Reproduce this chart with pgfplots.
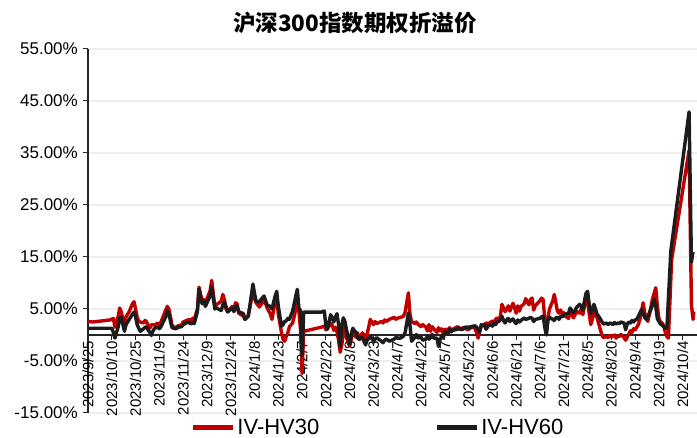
\documentclass[border=0pt]{standalone}
\usepackage{pgfplots}
\pgfplotsset{compat=1.18}
\usepackage{fontspec}
\setmainfont{Liberation Sans}
\newfontfamily\cjk{Noto Sans CJK SC}
\definecolor{hvred}{HTML}{C00000}
\definecolor{hvblack}{HTML}{1C1C1C}
\definecolor{gridc}{HTML}{EEEEEE}
\begin{document}
\begin{tikzpicture}[x=1pt,y=1pt]
\path[use as bounding box] (0,0) rectangle (697,438);
\node at (355,415) {\cjk\bfseries\fontsize{22.5}{26}\selectfont 沪深300指数期权折溢价};
\begin{axis}[
  at={(88pt,25pt)}, anchor=south west,
  scale only axis, width=609pt, height=364pt,
  xmin=0, xmax=384, ymin=-15, ymax=55,
  axis x line=middle, axis y line=left,
  hide obscured x ticks=false, hide obscured y ticks=false,
  axis line style={-, line width=1.2pt, black!85},
  tick align=outside,
  major tick length=5pt,
  tick style={line width=1pt, black!85},
  xtick={0,15,...,375},
  xticklabels={2023/9/25,2023/10/10,2023/10/25,2023/11/9,2023/11/24,2023/12/9,2023/12/24,2024/1/8,2024/1/23,2024/2/7,2024/2/22,2024/3/8,2024/3/23,2024/4/7,2024/4/22,2024/5/7,2024/5/22,2024/6/6,2024/6/21,2024/7/6,2024/7/21,2024/8/5,2024/8/20,2024/9/4,2024/9/19,2024/10/4},
  xticklabel style={rotate=90, anchor=east, inner sep=1pt, font=\fontsize{15}{15}\selectfont},
  ytick={-15,-5,5,15,25,35,45,55},
  yticklabels={-15.00\%,-5.00\%,5.00\%,15.00\%,25.00\%,35.00\%,45.00\%,55.00\%},
  yticklabel style={font=\fontsize{17}{17}\selectfont, inner sep=2pt, xshift=-3pt},
  ymajorgrids, major grid style={gridc, line width=1.3pt},
  legend style={at={(0.476,-0.041)}, anchor=center, draw=none, fill=none,
    font=\fontsize{22}{22}\selectfont, legend columns=2,
    /tikz/every even column/.append style={column sep=113pt}},
  legend image code/.code={\draw[#1, line width=5pt] (0pt,0pt) -- (40pt,0pt);},
  every axis plot/.append style={line width=3.4pt, line join=round},
  clip=false,
]
\addplot[hvred, mark=none] coordinates {
(0,2.6)(3,2.5)(14,2.9)(16,3.2)(17,1.5)(19,3.5)(20,5.2)(21,4.4)(22,3.0)(23,2.0)(24,3.5)(26,4.5)(28,6.0)(29,6.4)(30,5.0)(31,3.4)(32,2.6)(35,2.3)(36,2.8)(37,2.5)(38,1.8)(39,1.3)(40,2.0)(42,1.9)(44,2.3)(45,1.9)(46,2.5)(49,4.8)(50,5.5)(51,5.0)(52,3.5)(53,1.8)(55,1.4)(56,1.6)(57,1.8)(59,1.9)(60,2.5)(63,2.9)(64,3.0)(65,2.7)(66,3.2)(67,3.0)(69,5.0)(70,9.2)(71,7.8)(72,6.5)(73,6.8)(74,6.2)(77,8.5)(78,10.5)(79,8.0)(80,5.6)(81,5.8)(84,6.5)(85,7.8)(86,6.8)(87,5.0)(88,4.6)(91,5.5)(92,4.8)(93,6.2)(94,6.0)(95,4.2)(98,3.6)(99,3.0)(100,3.4)(101,3.6)(102,5.2)(104,8.5)(105,7.0)(106,6.2)(108,5.4)(109,5.8)(111,6.8)(112,6.0)(113,5.2)(115,4.0)(116,3.0)(118,6.5)(119,7.2)(120,4.0)(122,0.5)(123,-0.8)(124,-1.2)(125,-0.3)(126,0.4)(127,1.6)(129,2.3)(130,3.5)(131,5.0)(132,6.3)(133,4.5)(134,1.0)(135,-7.4)(136,0.7)(147,1.5)(149,1.7)(150,1.0)(151,1.3)(153,2.2)(154,1.9)(155,0.9)(156,1.5)(157,0.6)(158,-1.0)(159,-3.3)(160,-2.0)(161,0.5)(162,1.8)(163,-0.5)(164,-1.5)(165,-2.1)(166,-0.8)(167,0.2)(168,0.3)(169,-0.4)(170,0.4)(171,-0.9)(172,-0.2)(173,0.4)(174,0.0)(175,-0.9)(176,0.2)(177,1.5)(178,3.0)(179,2.5)(180,2.0)(181,2.6)(182,2.2)(185,2.6)(186,2.3)(187,2.9)(188,2.6)(190,3.0)(193,3.4)(194,3.0)(195,3.2)(197,3.4)(199,3.6)(200,4.5)(202,8.1)(203,4.0)(204,2.6)(206,2.2)(207,2.5)(208,2.1)(210,1.6)(211,2.0)(213,1.5)(214,0.8)(215,2.0)(216,0.7)(217,1.6)(218,1.2)(220,0.5)(221,1.4)(222,0.8)(223,1.2)(224,0.3)(225,1.1)(227,1.0)(228,1.4)(229,0.8)(230,1.1)(233,1.6)(234,1.3)(235,1.0)(236,1.3)(237,1.5)(238,1.2)(240,1.0)(241,1.6)(242,1.4)(243,1.7)(244,1.2)(245,0.5)(246,-0.6)(247,0.8)(248,1.9)(249,1.7)(250,2.0)(251,2.3)(253,2.2)(254,2.5)(255,2.7)(256,2.4)(257,3.0)(258,3.3)(259,3.0)(260,3.6)(261,5.9)(262,5.2)(263,4.5)(264,5.0)(265,5.6)(266,4.6)(267,5.4)(268,6.1)(269,5.2)(270,4.2)(271,5.6)(272,4.6)(273,5.5)(275,6.0)(276,7.0)(278,5.8)(279,6.8)(280,7.1)(281,4.8)(282,5.6)(285,6.6)(286,7.1)(287,6.8)(288,3.0)(289,0.2)(290,3.2)(291,5.0)(292,5.8)(293,6.5)(294,7.8)(295,6.2)(296,4.6)(297,4.2)(298,4.8)(299,4.0)(300,4.3)(301,3.6)(303,3.2)(304,4.4)(305,4.1)(306,3.3)(307,3.8)(308,4.5)(310,4.2)(311,5.0)(312,3.9)(313,5.5)(314,7.8)(315,6.5)(316,4.2)(317,2.0)(318,3.0)(319,4.8)(320,3.8)(321,3.3)(322,2.2)(324,0.0)(325,-0.5)(327,-0.3)(328,-0.5)(329,-0.1)(330,-0.4)(331,-0.2)(332,0.0)(333,-0.6)(334,-0.2)(335,-0.3)(336,0.1)(338,-0.5)(339,-1.0)(340,-0.4)(341,0.2)(342,0.8)(343,0.5)(344,1.2)(345,1.0)(346,1.5)(347,2.0)(348,3.0)(349,4.5)(350,6.2)(351,4.3)(352,3.5)(353,2.6)(354,4.0)(355,5.5)(356,7.0)(357,8.0)(358,9.1)(359,5.5)(360,3.2)(361,2.5)(362,2.3)(363,1.8)(364,0.5)(365,-0.3)(366,-0.6)(368,14.5)(379,35.5)(380.5,5.8)(381.5,3.0)(382,4.5)
};
\addlegendentry{IV-HV30}
\addplot[hvblack, mark=none] coordinates {
(0,1.3)(3,1.3)(14,1.3)(15,1.3)(16,0.5)(17,-0.6)(18,0.5)(19,1.5)(20,3.2)(21,3.4)(22,2.0)(23,0.7)(24,2.0)(26,3.0)(28,4.0)(29,4.4)(30,3.5)(31,2.0)(32,1.3)(33,0.7)(35,1.2)(36,1.5)(37,1.5)(38,0.9)(39,0.5)(40,-0.1)(41,0.8)(42,1.3)(44,1.5)(45,1.2)(46,1.6)(49,3.5)(50,4.6)(51,4.2)(52,2.6)(53,1.4)(55,1.2)(56,1.3)(57,1.5)(59,1.6)(60,2.0)(63,2.5)(64,2.3)(65,2.1)(66,2.4)(67,2.2)(69,4.5)(70,8.8)(71,7.0)(72,6.0)(73,6.5)(74,5.5)(77,7.5)(78,9.2)(79,7.0)(80,5.0)(81,5.2)(84,4.7)(85,5.8)(86,6.3)(87,5.5)(88,4.4)(91,5.2)(92,4.5)(93,5.5)(94,5.6)(95,4.5)(98,4.1)(99,3.0)(100,3.3)(101,3.6)(102,5.5)(104,9.8)(105,8.0)(106,6.5)(108,6.3)(109,6.8)(111,7.5)(112,6.6)(113,5.7)(115,5.5)(116,5.0)(118,7.5)(119,8.4)(120,5.5)(122,1.7)(123,2.0)(124,2.6)(125,2.7)(126,3.2)(127,3.0)(129,4.6)(130,6.0)(131,7.5)(132,8.8)(133,5.0)(134,4.8)(135,-4.0)(136,4.4)(147,4.4)(149,4.6)(150,1.7)(151,1.1)(152,2.5)(153,3.9)(154,3.3)(155,2.5)(156,3.5)(157,4.1)(158,2.0)(159,-2.2)(160,1.8)(161,3.3)(162,2.6)(163,1.0)(164,-0.5)(165,-1.9)(166,0.2)(167,1.3)(168,0.8)(169,0.5)(170,-0.6)(171,-0.8)(172,-0.5)(173,-0.6)(174,-1.2)(175,-1.9)(176,-1.0)(177,-0.7)(178,-0.4)(179,-0.6)(180,-1.2)(181,-0.8)(182,-0.5)(185,-1.2)(186,-1.5)(187,-1.0)(188,-0.8)(190,-1.2)(193,-0.8)(194,-0.5)(195,-0.6)(197,-0.6)(199,-0.2)(200,0.5)(202,4.2)(203,2.0)(204,-1.2)(206,-0.5)(207,0.1)(208,-0.6)(210,-0.4)(211,-1.0)(213,-0.8)(214,-0.2)(215,-0.8)(216,-0.5)(217,0.1)(218,-0.6)(220,-0.6)(221,-2.2)(222,-0.9)(223,-0.2)(224,-0.6)(225,0.6)(227,0.3)(228,1.1)(229,0.6)(230,0.9)(233,1.1)(234,1.4)(235,1.2)(236,1.0)(237,1.3)(238,1.5)(240,1.5)(241,1.3)(242,1.7)(243,1.6)(244,1.8)(245,1.5)(246,1.1)(247,0.6)(248,2.0)(249,1.8)(250,2.0)(251,1.1)(253,2.0)(254,1.9)(255,1.7)(256,2.3)(257,2.0)(258,2.5)(259,2.6)(260,2.9)(261,3.6)(262,2.8)(263,2.3)(264,2.9)(265,3.2)(266,2.6)(267,2.9)(268,3.1)(269,2.5)(270,2.2)(271,2.9)(272,2.5)(273,2.8)(275,3.3)(276,3.0)(278,3.2)(279,3.4)(280,3.2)(281,2.6)(282,3.0)(285,3.2)(286,3.5)(287,3.6)(288,1.5)(289,0.0)(290,2.8)(291,3.4)(292,3.2)(293,3.0)(294,2.8)(295,3.3)(296,3.4)(297,3.0)(298,3.6)(299,3.5)(300,3.8)(301,4.0)(303,4.2)(304,5.2)(305,4.7)(306,4.3)(307,4.6)(308,5.3)(310,5.9)(311,5.5)(312,4.8)(313,6.5)(314,8.0)(315,8.4)(316,6.0)(317,4.2)(318,4.8)(319,5.9)(320,5.0)(321,4.0)(322,3.6)(324,2.6)(325,2.1)(327,2.3)(328,2.0)(329,2.3)(330,2.2)(331,2.0)(332,2.4)(333,2.1)(334,2.3)(335,2.2)(336,2.5)(338,2.3)(339,1.0)(340,2.1)(341,2.5)(342,2.3)(343,2.8)(344,2.5)(345,2.9)(346,3.0)(347,3.6)(348,4.2)(349,4.9)(350,4.2)(351,3.4)(352,3.0)(353,3.5)(354,4.3)(355,5.0)(356,5.8)(357,6.8)(358,5.5)(359,3.1)(360,2.6)(361,2.1)(362,1.9)(363,1.6)(364,1.3)(365,1.3)(367.5,16.2)(379,42.9)(380.5,14.0)(381.5,16.0)
};
\addlegendentry{IV-HV60}
\end{axis}
\end{tikzpicture}
\end{document}
